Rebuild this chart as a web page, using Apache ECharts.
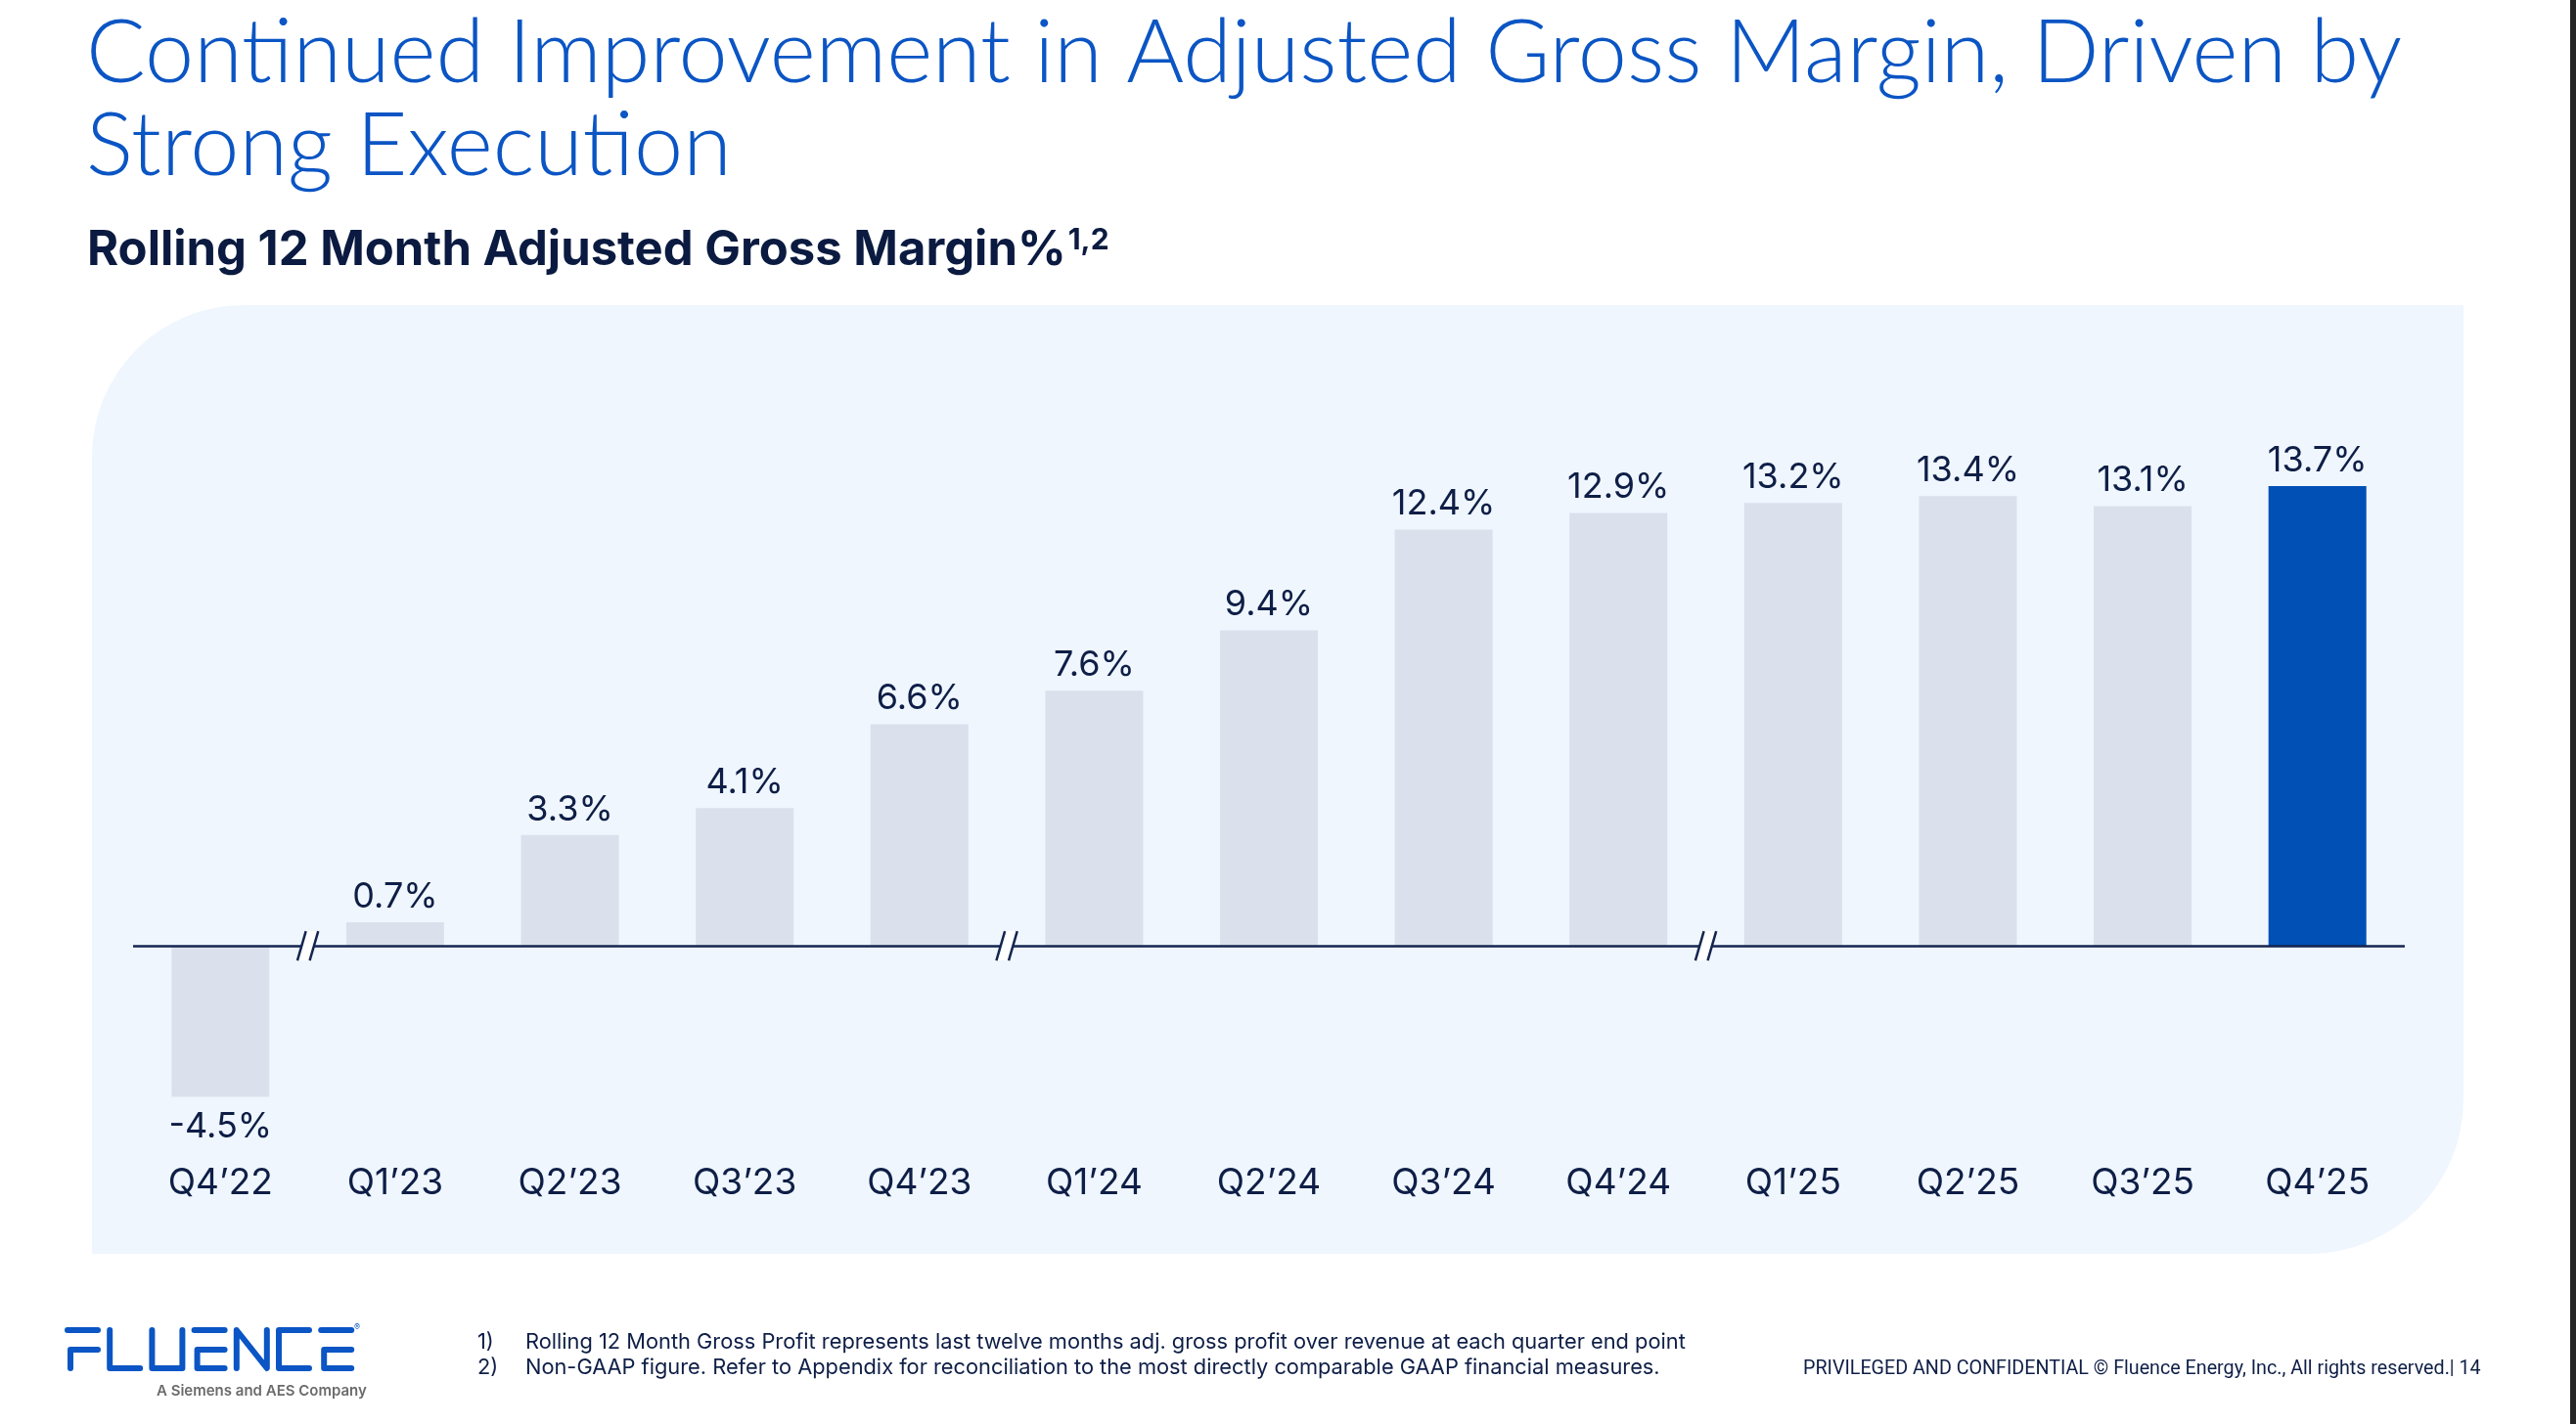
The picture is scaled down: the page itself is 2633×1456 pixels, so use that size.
<!DOCTYPE html>
<html>
<head>
<meta charset="utf-8">
<script src="https://cdn.jsdelivr.net/npm/echarts@6/dist/echarts.min.js"></script>
<style>
html,body{margin:0;padding:0;background:#ffffff;}
#chart{width:2633px;height:1456px;}
</style>
</head>
<body>
<div id="chart"></div>
<script>
// ---- data ----
const categories = ['Q4’22','Q1’23','Q2’23','Q3’23','Q4’23','Q1’24','Q2’24','Q3’24','Q4’24','Q1’25','Q2’25','Q3’25','Q4’25'];
const marginPct = [-4.5, 0.7, 3.3, 4.1, 6.6, 7.6, 9.4, 12.4, 12.9, 13.2, 13.4, 13.1, 13.7];
const breakAfter = ['Q4’22','Q4’23','Q4’24'];
const highlightCategory = 'Q4’25';
const titleText = 'Continued Improvement in Adjusted Gross Margin, Driven by\nStrong Execution';
const subtitleText = 'Rolling 12 Month Adjusted Gross Margin%';
const subtitleSup = '1,2';
const footnotes = [
  ['1)', 'Rolling 12 Month Gross Profit represents last twelve months adj. gross profit over revenue at each quarter end point'],
  ['2)', 'Non-GAAP figure. Refer to Appendix for reconciliation to the most directly comparable GAAP financial measures.']
];
const footerRight = 'PRIVILEGED AND CONFIDENTIAL © Fluence Energy, Inc., All rights reserved.| 14';
const logoTagline = 'A Siemens and AES Company';

// ---- styles ----
const NAVY = '#0e1e46';
const BLUE = '#0b55c4';
const BAR_LIGHT = '#dbe1ec';
const BAR_HI = '#0050b6';
const PANEL = '#eff6fe';
const FONT = 'Inter, "Noto Sans", sans-serif';
const TITLE_FONT = 'Lato, Inter, sans-serif';
const SMALL_FONT = 'Roboto, Inter, sans-serif';

const chart = echarts.init(document.getElementById('chart'), null, {renderer: 'canvas'});

// logo built from strokes
function logoChildren() {
  const x0 = 69, step = 43.2, w = 31, top = 1360, mid = 1380, bot = 1399;
  const letters = [
    [[[0,top],[w,top]], [[w,mid],[3,mid],[3,bot]]],                 // F
    [[[0,top],[0,bot],[w,bot]]],                                    // L
    [[[0,top],[0,bot],[w,bot],[w,top]]],                            // U
    [[[0,top],[w,top]], [[w,mid],[3,mid],[3,bot],[w,bot]]],         // E
    [[[0,bot],[0,top],[w,bot],[w,top]]],                            // N
    [[[w,top],[0,top],[0,bot],[w,bot]]],                            // C
    [[[0,top],[w,top]], [[w,mid],[3,mid],[3,bot],[w,bot]]]          // E
  ];
  const out = [];
  letters.forEach((strokes, i) => {
    const dx = x0 + step * i;
    strokes.forEach(pts => {
      out.push({
        type: 'polyline',
        shape: {points: pts.map(p => [p[0] + dx, p[1]])},
        style: {stroke: BLUE, lineWidth: 6, fill: null, lineCap: 'round', lineJoin: 'round'}
      });
    });
  });
  out.push({type: 'text', style: {x: 362, y: 1353, text: '®', font: '9px ' + FONT, fill: BLUE}});
  out.push({type: 'text', style: {x: 160, y: 1422, text: logoTagline, font: '600 15px ' + FONT, fill: '#6b6b6b', verticalAlign: 'middle'}});
  return out;
}

const barData = marginPct.map((v, i) => ({
  value: v,
  itemStyle: {color: categories[i] === highlightCategory ? BAR_HI : BAR_LIGHT},
  label: v < 0 ? {position: 'bottom', distance: 13} : {position: 'top', distance: 8}
}));

const option = {
  backgroundColor: '#ffffff',
  animation: false,
  graphic: [
    {type: 'rect', z: 0, shape: {x: 94, y: 312, width: 2424, height: 970, r: [155, 0, 158, 0]}, style: {fill: PANEL}},
    {type: 'rect', z: 0, shape: {x: 2627, y: 0, width: 6, height: 1456}, style: {fill: '#262626'}},
    {type: 'text', z: 5, style: {x: 88, y: 7, text: titleText, font: '300 90px ' + TITLE_FONT, lineHeight: 95, fill: BLUE, verticalAlign: 'top'}},
    {type: 'text', z: 5, style: {
      x: 89, y: 231, verticalAlign: 'top',
      text: '{m|' + subtitleText + '}{s|' + subtitleSup + '}',
      rich: {
        m: {fontFamily: FONT, fontSize: 49, fontWeight: 'bold', lineHeight: 50, fill: '#0b1a40', color: '#0b1a40'},
        s: {fontFamily: FONT, fontSize: 30, fontWeight: 'bold', lineHeight: 30, verticalAlign: 'top', fill: '#0b1a40', color: '#0b1a40', padding: [0,0,0,2]}
      }
    }},
    {type: 'group', z: 5, children: logoChildren()},
    {type: 'text', z: 5, style: {x: 488, y: 1372, text: footnotes[0][0], font: '21.8px ' + FONT, fill: NAVY, verticalAlign: 'middle'}},
    {type: 'text', z: 5, style: {x: 537, y: 1372, text: footnotes[0][1], font: '21.8px ' + FONT, fill: NAVY, verticalAlign: 'middle'}},
    {type: 'text', z: 5, style: {x: 488, y: 1398, text: footnotes[1][0], font: '21.8px ' + FONT, fill: NAVY, verticalAlign: 'middle'}},
    {type: 'text', z: 5, style: {x: 537, y: 1398, text: footnotes[1][1], font: '21.8px ' + FONT, fill: NAVY, verticalAlign: 'middle'}},
    {type: 'text', z: 5, style: {x: 1843, y: 1400, text: footerRight, font: '19.7px ' + SMALL_FONT, fill: NAVY, verticalAlign: 'middle'}}
  ],
  grid: {left: 136, right: 175, top: 486.7, bottom: 283.1, containLabel: false},
  xAxis: {
    type: 'category',
    data: categories,
    axisLine: {show: false, onZero: false},
    axisTick: {show: false},
    axisLabel: {color: NAVY, fontFamily: FONT, fontSize: 37, margin: 18, lineHeight: 37}
  },
  yAxis: {
    type: 'value', min: -6, max: 14, interval: 2,
    show: false
  },
  series: [
    {
      type: 'bar',
      data: barData,
      barWidth: '56%',
      z: 3,
      label: {show: true, color: NAVY, fontFamily: FONT, fontSize: 36, formatter: p => p.value.toFixed(1) + '%'},
      markLine: {
        silent: true,
        symbol: 'none',
        label: {show: false},
        lineStyle: {color: '#14254f', width: 2.5, type: 'solid'},
        data: [{yAxis: 0}]
      }
    },
    {
      type: 'custom',
      z: 10,
      silent: true,
      data: breakAfter.map(c => [c, 0]),
      renderItem: function (params, api) {
        const c = api.coord([api.value(0), api.value(1)]);
        const band = api.size([1, 0])[0];
        const x = c[0] + band / 2, y = c[1];
        const h = 15, lean = 4.35, off = 6.3;
        return {
          type: 'group',
          children: [
            {type: 'polygon', shape: {points: [[x - off + lean, y - h], [x + off + lean, y - h], [x + off - lean, y + h], [x - off - lean, y + h]]}, style: {fill: '#ffffff'}},
            {type: 'line', shape: {x1: x - off + lean, y1: y - h, x2: x - off - lean, y2: y + h}, style: {stroke: '#14254f', lineWidth: 2.5}},
            {type: 'line', shape: {x1: x + off + lean, y1: y - h, x2: x + off - lean, y2: y + h}, style: {stroke: '#14254f', lineWidth: 2.5}}
          ]
        };
      }
    }
  ]
};
chart.setOption(option);
</script>
</body>
</html>
